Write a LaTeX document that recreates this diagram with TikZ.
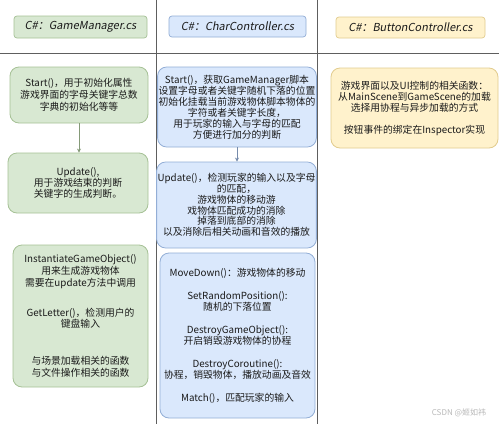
\documentclass[tikz,border=0pt]{standalone}
\usepackage{fontspec}
\setmainfont{Noto Sans CJK SC}
\newfontfamily\hdrfont[FakeSlant=0.18]{Noto Sans CJK SC}
\usetikzlibrary{arrows.meta}
\definecolor{gfill}{HTML}{D8E8D2}
\definecolor{gline}{HTML}{A6C196}
\definecolor{bfill}{HTML}{DAE8FC}
\definecolor{bline}{HTML}{93AED6}
\definecolor{yfill}{HTML}{FFF2CC}
\definecolor{yline}{HTML}{E2CC8E}
\definecolor{divider}{HTML}{5E5E5E}
\definecolor{txt}{HTML}{1A1A1A}
\tikzset{
  box/.style={rounded corners=9pt, draw, line width=0.8pt, align=center, inner sep=1pt,
    text=txt, font=\fontsize{9.8}{11}\selectfont},
  gbox/.style={box, fill=gfill, draw=gline},
  bbox/.style={box, fill=bfill, draw=bline},
  ybox/.style={box, fill=yfill, draw=yline},
  hdr/.style={rounded corners=3pt, draw, line width=0.7pt, inner sep=0pt, text=txt,
    font=\hdrfont\fontsize{11}{13}\selectfont},
  divline/.style={draw=divider, line width=0.9pt},
  arr/.style={-{Stealth[length=4pt,width=4pt]}, line width=0.7pt},
}
\begin{document}
\begin{tikzpicture}[x=1pt,y=-1pt]
\useasboundingbox[fill=white] (0,0) rectangle (499,424);
% table lines
\draw[divline] (0,53) -- (499,53);
\draw[divline] (156.5,0) -- (156.5,424);
\draw[divline] (317.5,0) -- (317.5,424);
% headers
\node[hdr, fill=gfill, draw=gline, minimum width=133pt, minimum height=22pt] (h1) at (80.5,27) {C\#：GameManager.cs};
\node[hdr, fill=bfill, draw=bline, minimum width=137pt, minimum height=21pt] (h2) at (237.5,26.5) {C\#：CharController.cs};
\node[hdr, fill=yfill, draw=yline, minimum width=149pt, minimum height=21pt] (h3) at (410.5,27.5) {C\#：ButtonController.cs};
% column 1
\node[gbox, minimum width=138pt, minimum height=56pt, font=\fontsize{9.8}{12}\selectfont] (g1) at (79,95)
  {Start()，用于初始化属性\\游戏界面的字母关键字总数\\字典的初始化等等};
\node[gbox, minimum width=140pt, minimum height=60pt, font=\fontsize{9.8}{10.8}\selectfont] (g2) at (78,183)
  {Update(),\\用于游戏结束的判断\\关键字的生成判断。};
\node[gbox, minimum width=135pt, minimum height=142pt, font=\fontsize{9.8}{11.8}\selectfont] (g3) at (80.5,316)
  {InstantiateGameObject()\\用来生成游戏物体\\需要在update方法中调用\\[18pt]
   GetLetter()，检测用户的\\键盘输入\\[25pt]
   与场景加载相关的函数\\与文件操作相关的函数};
\draw[arr, draw=gline!80!black] (g1.south) -- (g1.south |- g2.north);
% column 2
\node[bbox, minimum width=156pt, minimum height=80pt] (b1) at (237,107)
  {Start()，获取GameManager脚本\\设置字母或者关键字随机下落的位置\\初始化挂载当前游戏物体脚本物体的\\字符或者关键字长度，\\用于玩家的输入与字母的匹配\\方便进行加分的判断};
\node[bbox, minimum width=157pt, minimum height=86pt, font=\fontsize{9.8}{10.8}\selectfont] (b2) at (236.5,205)
  {Update()，检测玩家的输入以及字母\\的匹配，\\游戏物体的移动游\\戏物体匹配成功的消除\\掉落到底部的消除\\以及消除后相关动画和音效的播放};
\node[bbox, minimum width=155pt, minimum height=165pt] (b3) at (237.5,335.5)
  {MoveDown()：游戏物体的移动\\[12pt]
   SetRandomPosition():\\随机的下落位置\\[12pt]
   DestroyGameObject():\\开启销毁游戏物体的协程\\[12pt]
   DestroyCoroutine():\\协程，销毁物体，播放动画及音效\\[12pt]
   Match()，匹配玩家的输入};
\draw[arr, draw=bline!80!black] (b1.south) -- (b1.south |- b2.north);
% column 3
\node[ybox, minimum width=167pt, minimum height=80pt] (y1) at (414.5,108)
  {游戏界面以及UI控制的相关函数：\\从MainScene到GameScene的加载\\选择用协程与异步加载的方式\\[11pt]
   按钮事件的绑定在Inspector实现};
% watermark
\node[text=gray!55, font=\fontsize{8}{9}\selectfont, inner sep=0pt] (wm) at (459,413) {CSDN @姬如祎};
\end{tikzpicture}
\end{document}
